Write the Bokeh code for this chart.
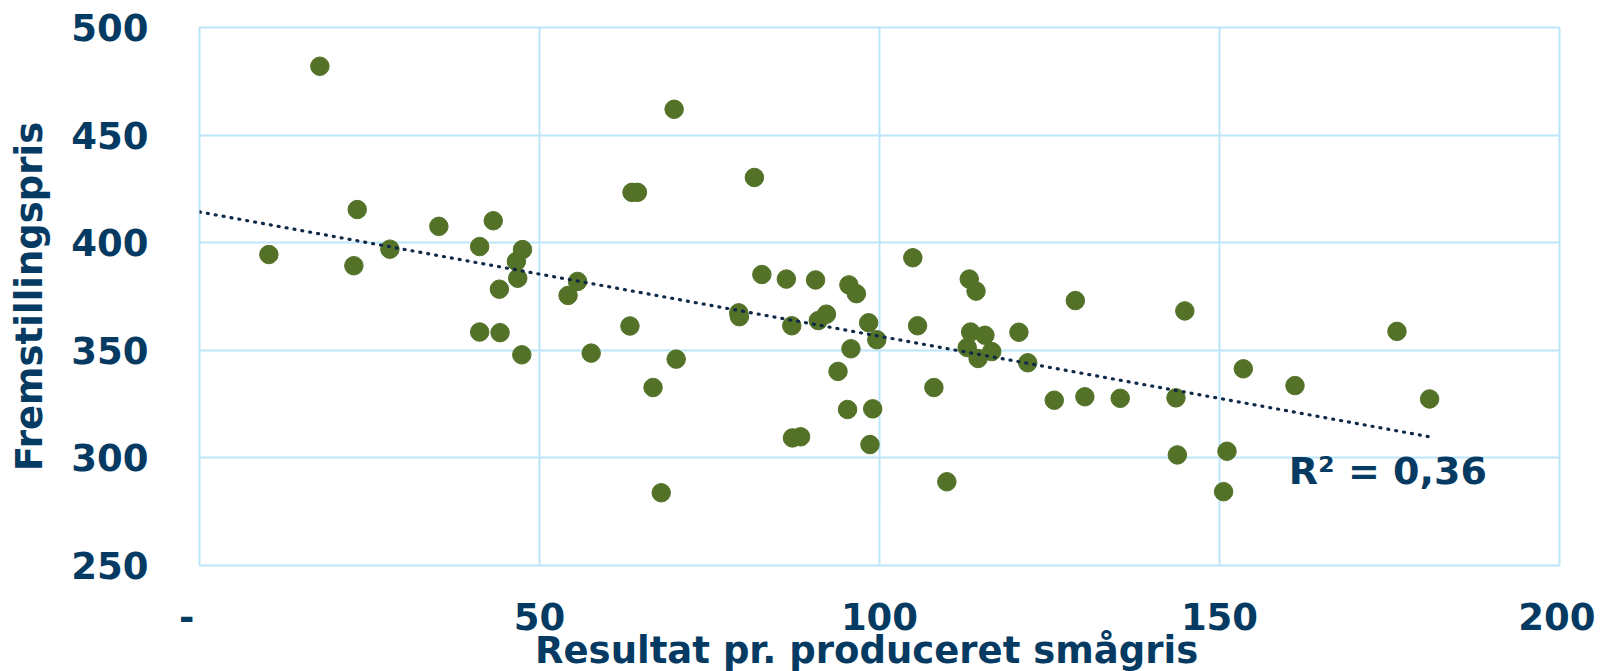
from bokeh.plotting import figure
from bokeh.models import Range1d, FixedTicker, Label
from bokeh.embed import file_html
from bokeh.resources import INLINE

# Data
resultat = [10.2, 17.7, 22.7, 23.2, 28.0, 35.2, 41.2, 41.2, 43.2, 44.1,
            44.2, 46.6, 46.8, 47.5, 47.4, 54.2, 55.6, 57.6, 63.3, 63.6,
            64.4, 66.7, 67.9, 69.8, 70.1, 79.3, 79.4, 81.6, 82.7, 86.3,
            87.1, 87.2, 88.4, 90.6, 91.0, 92.2, 93.9, 95.3, 95.5, 95.8,
            96.6, 98.4, 98.6, 99.0, 99.6, 104.9, 105.6, 108.0, 109.9, 112.9,
            113.2, 113.4, 114.2, 114.5, 115.5, 116.5, 120.5, 121.8, 125.7, 128.8,
            130.2, 135.4, 143.6, 143.8, 144.9, 150.6, 151.1, 153.5, 161.1, 176.1,
            180.9]
fremstillingspris = [394.5, 482.0, 389.3, 415.4, 397.0, 407.6, 398.2, 358.5, 410.2, 378.4,
                     358.2, 391.3, 383.5, 396.8, 347.9, 375.5, 382.0, 348.7, 361.3, 423.4,
                     423.4, 332.7, 283.8, 462.0, 345.9, 367.4, 365.6, 430.3, 385.2, 383.1,
                     361.4, 309.3, 309.8, 382.7, 363.8, 366.8, 340.2, 322.5, 380.4, 350.7,
                     376.3, 362.8, 306.2, 322.8, 354.9, 393.0, 361.4, 332.7, 288.9, 351.3,
                     383.1, 358.5, 377.5, 346.2, 357.0, 349.4, 358.4, 344.2, 326.8, 373.1,
                     328.4, 327.7, 327.9, 301.4, 368.3, 284.3, 303.1, 341.4, 333.6, 358.8,
                     327.4]
# Linear trend line as drawn in the reference (start / end)
trend_x = [0.0, 180.9]
trend_y = [414.3, 309.8]
x_ticks = [0, 50, 100, 150, 200]
x_tick_labels = {0: "-\u00a0\u00a0", 50: "50", 100: "100", 150: "150", 200: "200"}
y_ticks = [250, 300, 350, 400, 450, 500]
r2_text = "R² = 0,36"

TEXT = "#053A62"
GRID = "#BEE6FA"
DOT = "#537228"
FONT = "DejaVu Sans"

p = figure(frame_width=1360, frame_height=538, output_backend="svg",
           toolbar_location=None, x_range=Range1d(0, 200), y_range=Range1d(250, 500),
           min_border_left=199, min_border_right=36, min_border_top=27, min_border_bottom=100)

p.outline_line_color = GRID
p.outline_line_width = 2
p.background_fill_color = "white"
p.border_fill_color = "white"

for g in (p.xgrid, p.ygrid):
    g.grid_line_color = GRID
    g.grid_line_width = 2
p.xgrid.ticker = FixedTicker(ticks=x_ticks)
p.ygrid.ticker = FixedTicker(ticks=y_ticks)

p.xaxis.ticker = FixedTicker(ticks=x_ticks)
p.yaxis.ticker = FixedTicker(ticks=y_ticks)
p.xaxis.major_label_overrides = x_tick_labels

for ax in (p.xaxis[0], p.yaxis[0]):
    ax.axis_line_color = None
    ax.major_tick_line_color = None
    ax.minor_tick_line_color = None
    ax.major_tick_out = 0
    ax.major_tick_in = 0
    ax.minor_tick_out = 0
    ax.major_label_text_font = FONT
    ax.major_label_text_font_style = "bold"
    ax.major_label_text_font_size = "37px"
    ax.major_label_text_color = TEXT
    ax.axis_label_text_font = FONT
    ax.axis_label_text_font_style = "bold"
    ax.axis_label_text_font_size = "37px"
    ax.axis_label_text_color = TEXT

p.xaxis.axis_label = "Resultat pr. produceret smågris\u00a0\u00a0"
p.yaxis.axis_label = "Fremstillingspris"
p.xaxis.major_label_standoff = 30
p.xaxis.axis_label_standoff = -13
p.yaxis.major_label_standoff = 51
p.yaxis.axis_label_standoff = 17

p.scatter(resultat, fremstillingspris, size=18.5, fill_color=DOT, line_color=DOT)

p.line(trend_x, trend_y, line_color="#0E2A47", line_width=3.2,
       line_dash="1 7", line_cap="round")

p.add_layout(Label(x=160.2, y=294, text=r2_text, text_font=FONT, text_font_style="bold",
                   text_font_size="38px", text_color=TEXT, text_baseline="alphabetic"))

open("out.html", "w").write(file_html(p, INLINE))
